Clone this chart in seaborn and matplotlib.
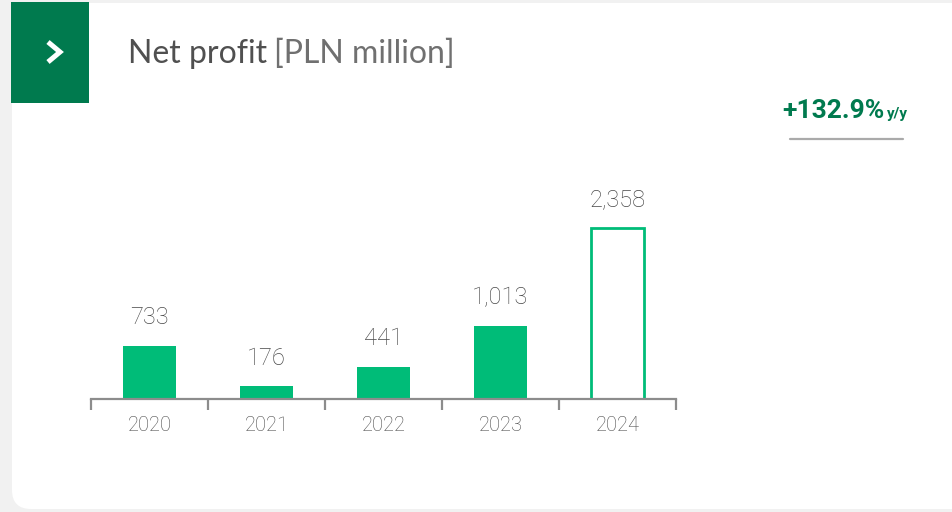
import matplotlib
matplotlib.use("Agg")
import matplotlib.pyplot as plt
from matplotlib.patches import FancyBboxPatch, Rectangle
from matplotlib.lines import Line2D
import seaborn as sns
import pandas as pd

years = ["2020", "2021", "2022", "2023", "2024"]
net_profit = [733, 176, 441, 1013, 2358]
value_labels = ["733", "176", "441", "1,013", "2,358"]
title_main = "Net profit"
title_unit = "[PLN million]"
change_text = "+132.9%"
change_unit = "y/y"

W, H = 953, 512
DPI = 100
BAR = "#00bc78"
DARK = "#007a4e"
GRAY_TXT = "#484848"

sns.set_theme(style="white")
plt.rcParams["font.family"] = ["Lato", "DejaVu Sans"]

fig = plt.figure(figsize=(W / DPI, H / DPI), dpi=DPI, facecolor="#f1f1f1")

def fx(px):
    return px / W

def fy(py):
    return 1 - py / H

# white card with rounded corners
card = FancyBboxPatch((fx(12), fy(509)), fx(1000) - fx(12), fy(3) - fy(509),
                      boxstyle="round,pad=0,rounding_size=0.02",
                      transform=fig.transFigure, facecolor="white",
                      edgecolor="none", zorder=-5, mutation_aspect=W / H)
fig.patches.append(card)

# green square with chevron
sq = Rectangle((fx(11), fy(103)), fx(89) - fx(11), fy(2) - fy(103),
               transform=fig.transFigure, facecolor=DARK, edgecolor="none", zorder=-4)
fig.patches.append(sq)
chev = Line2D([fx(48), fx(60), fx(48)], [fy(42), fy(52), fy(62)],
              transform=fig.transFigure, color="white", linewidth=3.6,
              solid_capstyle="butt", solid_joinstyle="miter", zorder=2)
fig.lines.append(chev)

# title
t1 = fig.text(fx(128), fy(54), title_main, fontsize=23, color="#505050",
              fontfamily=["Lato", "DejaVu Sans"], fontweight="normal", va="center", ha="left")
fig.canvas.draw()
bb = t1.get_window_extent()
fig.text((bb.x1 + 7) / W, fy(54), title_unit, fontsize=23, color="#707070",
         fontfamily=["Lato", "DejaVu Sans"], fontweight="normal", va="center", ha="left")

# y/y change
t2 = fig.text(fx(782), fy(118), change_text, fontsize=19, color=DARK,
              fontfamily=["Roboto", "DejaVu Sans"], fontweight="bold", va="baseline", ha="left")
fig.canvas.draw()
bb2 = t2.get_window_extent()
fig.text((bb2.x1 + 3) / W, fy(118), change_unit, fontsize=11, color=DARK,
         fontfamily=["Roboto", "DejaVu Sans"], fontweight="bold", va="baseline", ha="left")
fig.lines.append(Line2D([fx(790), fx(903)], [fy(139), fy(139)], transform=fig.transFigure,
                        color="#aaaaaa", linewidth=1.6))

# bar chart
ymax = 3000
top_px = 399 - ymax * 171 / 2358
ax = fig.add_axes([fx(91), fy(399), fx(676) - fx(91), (399 - top_px) / H])
ax.set_facecolor("none")

df = pd.DataFrame({"year": years, "value": net_profit})
sns.barplot(data=df, x="year", y="value", color=BAR, saturation=1, width=0.45, ax=ax)

patches = ax.patches
last = patches[-1]
last.set_facecolor("white")
last.set_edgecolor(BAR)
last.set_linewidth(2)
for p in patches[:-1]:
    p.set_edgecolor("none")

for p, lab in zip(patches, value_labels):
    ax.annotate(lab, (p.get_x() + p.get_width() / 2, p.get_height()),
                xytext=(0, 12), textcoords="offset points", ha="center", va="bottom",
                fontsize=17, color=GRAY_TXT, fontfamily=["Roboto", "DejaVu Sans"],
                fontweight="light")

ax.set_xlim(-0.5, len(years) - 0.5)
ax.set_ylim(0, ymax)
ax.set_xlabel("")
ax.set_ylabel("")
ax.set_yticks([])
for s in ["top", "right", "left"]:
    ax.spines[s].set_visible(False)
ax.spines["bottom"].set_color("#8c8c8c")
ax.spines["bottom"].set_linewidth(1.6)
ax.spines["bottom"].set_zorder(5)

ax.set_xticks(range(len(years)))
ax.set_xticklabels(years)
ax.set_xticks([i - 0.5 for i in range(len(years) + 1)], minor=True)
ax.tick_params(axis="x", which="major", bottom=False, length=0, pad=12, labelsize=14.5,
               labelcolor="#4a4a4a")
ax.tick_params(axis="x", which="minor", bottom=True, length=8, width=1.6, color="#8c8c8c",
               direction="out")
for lbl in ax.get_xticklabels():
    lbl.set_fontfamily(["Roboto", "DejaVu Sans"])
    lbl.set_fontweight("light")

fig.savefig("out.png", dpi=DPI, facecolor=fig.get_facecolor())
